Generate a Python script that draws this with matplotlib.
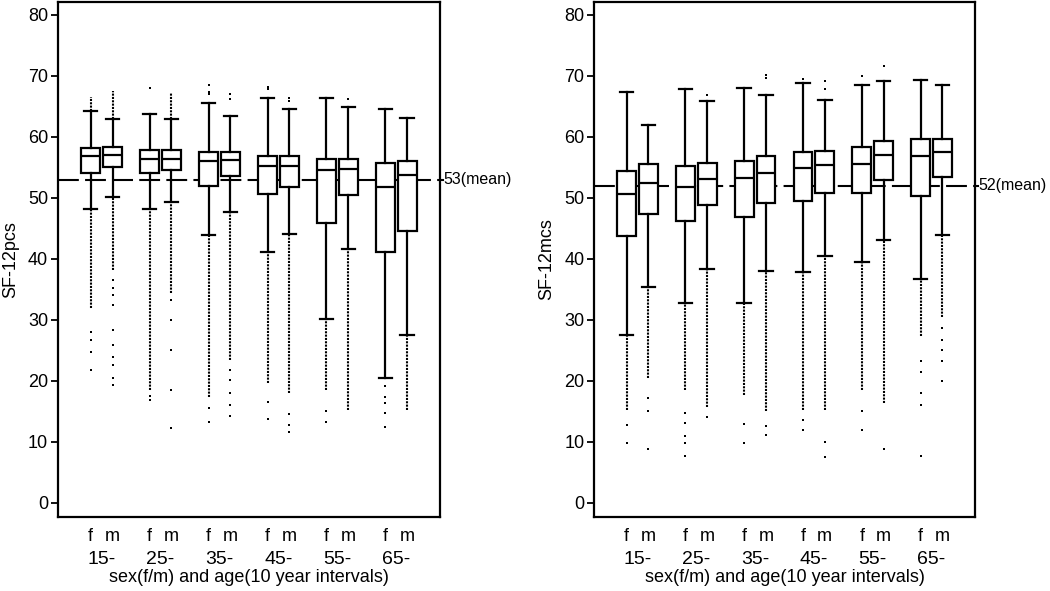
import matplotlib

matplotlib.use('Agg')
import matplotlib.pyplot as plt
import numpy as np

plt.rcParams['font.family'] = ['Liberation Sans', 'DejaVu Sans']

AGES = ["15-", "25-", "35-", "45-", "55-", "65-"]
SEXES = ["f", "m"]

# order: 15-f, 15-m, 25-f, 25-m, ... 65-f, 65-m
PCS_Q3 = [58.2, 58.3, 57.9, 57.9, 57.5, 57.5, 56.9, 56.9, 56.4, 56.4, 55.7, 56.1]
PCS_MED = [56.9, 57.0, 56.4, 56.3, 56.0, 56.2, 55.2, 55.2, 54.6, 54.8, 51.8, 53.8]
PCS_Q1 = [54.1, 55.0, 54.0, 54.5, 52.0, 53.6, 50.6, 51.8, 45.9, 50.5, 41.1, 44.5]
PCS_HI = [64.3, 63.0, 63.8, 62.9, 65.5, 63.4, 66.3, 64.6, 66.4, 64.9, 64.5, 63.1]
PCS_LO = [48.2, 50.2, 48.2, 49.3, 43.9, 47.7, 41.1, 44.1, 30.1, 41.7, 20.5, 27.5]
# where the dense run of outliers ends (below / above the whiskers)
PCS_DENSE_LO = [32.0, 38.2, 18.5, 34.4, 17.4, 23.4, 19.7, 18.0, 18.5, 15.2, np.nan, 15.2]
PCS_DENSE_HI = [66.6, 67.5, np.nan, 67.2, np.nan, np.nan, np.nan, np.nan, np.nan, np.nan, np.nan, np.nan]
PCS_SPARSE = [
    [28.1, 26.7, 24.8, 21.8],
    [36.6, 35.2, 34.1, 32.5, 28.4, 25.9, 24.0, 22.6, 20.5, 19.3],
    [17.6, 16.9, 68.0],
    [33.3, 30.0, 25.0, 18.5, 12.3],
    [15.5, 13.3, 67.1, 67.4, 68.5],
    [21.8, 20.2, 18.0, 16.1, 14.3, 66.2, 67.0],
    [16.5, 13.8, 67.8, 68.2],
    [14.5, 12.8, 11.6, 65.9, 66.4],
    [15.1, 13.3],
    [66.2],
    [19.1, 17.4, 16.4, 14.8, 12.5],
    [],
]
PCS_MEAN = 53

MCS_Q3 = [54.4, 55.5, 55.3, 55.7, 56.1, 56.9, 57.5, 57.7, 58.4, 59.4, 59.6, 59.7]
MCS_MED = [50.7, 52.4, 51.8, 53.1, 53.2, 54.0, 54.9, 55.4, 55.6, 57.1, 56.8, 57.6]
MCS_Q1 = [43.7, 47.4, 46.2, 48.8, 46.8, 49.2, 49.5, 50.8, 50.8, 53.0, 50.3, 53.4]
MCS_HI = [67.3, 62.0, 67.9, 65.8, 68.0, 66.9, 68.8, 66.0, 68.5, 69.2, 69.4, 68.5]
MCS_LO = [27.5, 35.4, 32.7, 38.4, 32.7, 38.0, 37.8, 40.5, 39.5, 43.1, 36.7, 43.9]
MCS_DENSE_LO = [15.2, 20.4, 18.5, 15.8, 17.7, 15.0, 15.2, 15.2, 18.5, 16.4, 27.3, 30.5]
MCS_DENSE_HI = [np.nan] * 12
MCS_SPARSE = [
    [12.8, 9.8],
    [17.2, 15.1, 8.8],
    [14.7, 13.1, 11.0, 9.8, 7.7],
    [14.1, 66.9],
    [13.0, 9.9],
    [12.6, 11.1, 69.6, 70.2],
    [13.6, 12.0, 69.5],
    [10.0, 7.6, 67.9, 69.2],
    [15.1, 12.0, 70.0],
    [8.8, 71.6],
    [23.2, 21.4, 18.0, 16.1, 7.7],
    [28.7, 26.7, 25.1, 23.2, 20.0],
]
MCS_MEAN = 52

GROUP_STEP = 2.7
pos = [GROUP_STEP * g + s for g in range(len(AGES)) for s in range(len(SEXES))]


def panel(ax, q1, med, q3, lo, hi, dense_lo, dense_hi, sparse, mean, ylabel):
    stats = [dict(med=m, q1=a, q3=b, whislo=l, whishi=h, fliers=[])
             for m, a, b, l, h in zip(med, q1, q3, lo, hi)]
    ax.axhline(mean, color='black', lw=1.5, ls=(0, (10, 3)), zorder=1)
    ax.plot([1.0, 1.008], [mean, mean], color='black', lw=1.5,
            transform=ax.get_yaxis_transform(), clip_on=False)
    ax.bxp(stats, positions=pos, widths=0.86, capwidths=0.62, patch_artist=True,
           showfliers=False,
           boxprops=dict(facecolor='white', edgecolor='black', lw=1.6),
           medianprops=dict(color='black', lw=1.6),
           whiskerprops=dict(color='black', lw=1.6),
           capprops=dict(color='black', lw=1.6), zorder=3)
    for x, l, d in zip(pos, lo, dense_lo):
        if not np.isnan(d):
            ax.vlines(x, d, l, colors='black', lw=1.5, linestyles=(0, (1, 0.6)), zorder=2)
    for x, h, d in zip(pos, hi, dense_hi):
        if not np.isnan(d):
            ax.vlines(x, h, d, colors='black', lw=1.5, linestyles=(0, (1, 0.6)), zorder=2)
    for x, pts in zip(pos, sparse):
        ax.plot([x] * len(pts), pts, ls='none', marker='s', ms=1.9, mew=0,
                color='black', zorder=2)

    ax.set_xlim(-1.5, pos[-1] + 1.5)
    ax.set_ylim(-2.3, 82.1)
    ax.set_yticks(range(0, 81, 10))
    ax.tick_params(axis='y', labelsize=13, length=5, width=1.3, pad=2)
    ax.set_xticks(pos)
    ax.set_xticklabels(SEXES * len(AGES))
    ax.tick_params(axis='x', length=0, labelsize=13, pad=8)
    for g, age in enumerate(AGES):
        ax.text(GROUP_STEP * g + 0.5, -0.083, age, transform=ax.get_xaxis_transform(),
                ha='center', va='center', fontsize=14)
    ax.text(0.5, -0.118, "sex(f/m) and age(10 year intervals)", transform=ax.transAxes,
            ha='center', va='center', fontsize=13)
    ax.set_ylabel(ylabel, fontsize=13, labelpad=6)
    ax.text(1.008, mean, f"{mean}(mean)", transform=ax.get_yaxis_transform(),
            ha='left', va='center', fontsize=11.5)
    for s in ax.spines.values():
        s.set_linewidth(1.6)


fig = plt.figure(figsize=(10.5, 5.91), dpi=100)
ax1 = fig.add_axes([0.0552, 0.1252, 0.3638, 0.8714])
ax2 = fig.add_axes([0.5657, 0.1252, 0.3629, 0.8714])

panel(ax1, PCS_Q1, PCS_MED, PCS_Q3, PCS_LO, PCS_HI, PCS_DENSE_LO, PCS_DENSE_HI,
      PCS_SPARSE, PCS_MEAN, "SF-12pcs")
panel(ax2, MCS_Q1, MCS_MED, MCS_Q3, MCS_LO, MCS_HI, MCS_DENSE_LO, MCS_DENSE_HI,
      MCS_SPARSE, MCS_MEAN, "SF-12mcs")

fig.savefig("out.png", dpi=100)
